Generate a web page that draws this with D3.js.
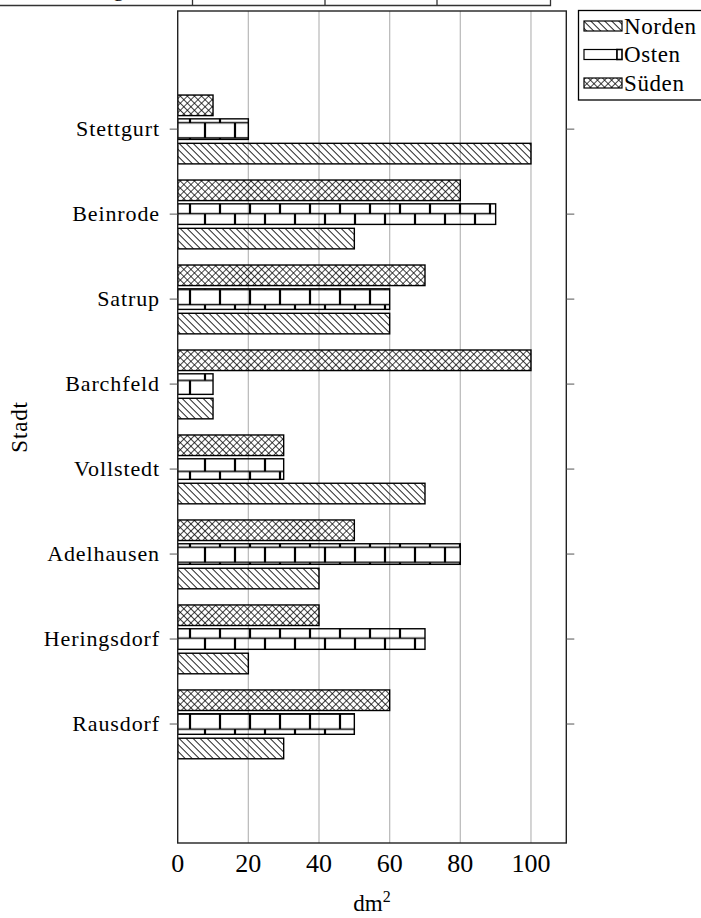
<!DOCTYPE html>
<html>
<head>
<meta charset="utf-8">
<script src="https://cdn.jsdelivr.net/npm/d3@7"></script>
<style>
body { margin: 0; background: #fff; }
svg { display: block; }
</style>
</head>
<body>
<div id="chart"></div>
<script>
// data, bottom to top
var cities = ["Rausdorf", "Heringsdorf", "Adelhausen", "Vollstedt", "Barchfeld", "Satrup", "Beinrode", "Stettgurt"];
var norden = [30, 20, 40, 70, 10, 60, 50, 100];
var osten  = [50, 70, 80, 30, 10, 60, 90, 20];
var sueden = [60, 40, 50, 30, 100, 70, 80, 10];
var seriesNames = ["Norden", "Osten", "Süden"];
var xTicks = [0, 20, 40, 60, 80, 100];

var W = 701, H = 918;
var pLeft = 177.7, pRight = 566.3, pTop = 11, pBottom = 843;
var font = "'Liberation Serif', 'Times New Roman', serif";

var svg = d3.select("#chart").append("svg")
    .attr("width", W)
    .attr("height", H);

var defs = svg.append("defs");

// north west lines
var pNW = defs.append("pattern")
    .attr("id", "nwlines")
    .attr("patternUnits", "userSpaceOnUse")
    .attr("width", 4.95).attr("height", 4.95)
    .attr("patternTransform", "rotate(-45)");
pNW.append("line")
    .attr("x1", 0).attr("y1", -1).attr("x2", 0).attr("y2", 6)
    .attr("stroke", "#000").attr("stroke-width", 1.7);

// crosshatch
var pCH = defs.append("pattern")
    .attr("id", "crosshatch")
    .attr("patternUnits", "userSpaceOnUse")
    .attr("width", 5).attr("height", 5)
    .attr("patternTransform", "rotate(45)");
pCH.append("path")
    .attr("d", "M0,-1V6M-1,0H6")
    .attr("stroke", "#000").attr("stroke-width", 1.45).attr("fill", "none");

// bricks
var bh = 15.16;
var pBR = defs.append("pattern")
    .attr("id", "bricks")
    .attr("patternUnits", "userSpaceOnUse")
    .attr("x", 0).attr("y", 16.62)
    .attr("width", 30).attr("height", 2 * bh);
pBR.append("path")
    .attr("d", "M0,0H30M0," + bh + "H30M0," + (2 * bh) + "H30")
    .attr("stroke", "#000").attr("stroke-width", 1.6).attr("fill", "none");
pBR.append("path")
    .attr("d", "M10,0V" + bh + "M25," + bh + "V" + (2 * bh))
    .attr("stroke", "#000").attr("stroke-width", 2.2).attr("fill", "none");

var fills = ["url(#nwlines)", "url(#bricks)", "url(#crosshatch)"];

var x = d3.scaleLinear().domain([0, 110]).range([pLeft, pRight]);
var y = d3.scaleLinear().domain([-1.4, 8.39]).range([pBottom, pTop]);

var step = y(0) - y(1);
var barH = step * 0.242;
// offsets: Norden below, Osten centered, Süden above
var offsets = [step * 0.288, 0, -step * 0.28];

// top header box (cut off)
var header = svg.append("g")
    .attr("stroke", "#333").attr("stroke-width", 1.3).attr("fill", "none");
header.append("path").attr("d", "M0,5.5H550.5V-10");
[192.5, 325, 437].forEach(function(cx) {
    header.append("path").attr("d", "M" + cx + ",5.5V-10");
});
svg.append("text")
    .attr("x", 124).attr("y", -3.6)
    .attr("text-anchor", "end")
    .attr("font-family", font).attr("font-size", 22)
    .text("Nennung");

// grid
svg.append("g")
    .selectAll("line")
    .data(xTicks.filter(function(d) { return d > 0; }))
    .enter()
    .append("line")
    .attr("x1", function(d) { return x(d); })
    .attr("x2", function(d) { return x(d); })
    .attr("y1", pTop).attr("y2", pBottom)
    .attr("stroke", "#bdbdbd").attr("stroke-width", 1.3);

// bars
var seriesData = [norden, osten, sueden];
seriesData.forEach(function(vals, s) {
    svg.append("g")
        .selectAll("rect")
        .data(vals)
        .enter()
        .append("rect")
        .attr("x", x(0))
        .attr("y", function(d, i) { return y(i) + offsets[s] - barH / 2; })
        .attr("width", function(d) { return x(d) - x(0); })
        .attr("height", barH)
        .attr("fill", fills[s])
        .attr("stroke", "#000")
        .attr("stroke-width", 1.4);
});

// frame
svg.append("rect")
    .attr("x", pLeft).attr("y", pTop)
    .attr("width", pRight - pLeft).attr("height", pBottom - pTop)
    .attr("fill", "none").attr("stroke", "#222").attr("stroke-width", 1.4);

// y ticks
var yt = svg.append("g");
yt.selectAll("line.l")
    .data(cities)
    .enter()
    .append("line")
    .attr("class", "l")
    .attr("x1", pLeft - 8).attr("x2", pLeft)
    .attr("y1", function(d, i) { return y(i); })
    .attr("y2", function(d, i) { return y(i); })
    .attr("stroke", "#555").attr("stroke-width", 1);
yt.selectAll("line.r")
    .data(cities)
    .enter()
    .append("line")
    .attr("class", "r")
    .attr("x1", pRight).attr("x2", pRight + 8)
    .attr("y1", function(d, i) { return y(i); })
    .attr("y2", function(d, i) { return y(i); })
    .attr("stroke", "#555").attr("stroke-width", 1);
yt.selectAll("text")
    .data(cities)
    .enter()
    .append("text")
    .attr("x", 160)
    .attr("y", function(d, i) { return y(i); })
    .attr("dy", "0.33em")
    .attr("text-anchor", "end")
    .attr("font-family", font)
    .attr("font-size", 22)
    .attr("letter-spacing", 0.9)
    .text(function(d) { return d; });

// x tick labels
svg.append("g")
    .selectAll("text")
    .data(xTicks)
    .enter()
    .append("text")
    .attr("x", function(d) { return x(d); })
    .attr("y", 872)
    .attr("text-anchor", "middle")
    .attr("font-family", font)
    .attr("font-size", 26)
    .text(function(d) { return d; });

// axis labels
var xl = svg.append("text")
    .attr("x", (pLeft + pRight) / 2)
    .attr("y", 911)
    .attr("text-anchor", "middle")
    .attr("font-family", font)
    .attr("font-size", 23);
xl.append("tspan").text("dm");
xl.append("tspan").attr("font-size", 16).attr("dy", -9).text("2");

svg.append("text")
    .attr("transform", "translate(27," + ((pTop + pBottom) / 2) + ") rotate(-90)")
    .attr("text-anchor", "middle")
    .attr("font-family", font)
    .attr("font-size", 23)
    .attr("letter-spacing", 0.8)
    .text("Stadt");

// legend
var lg = svg.append("g");
lg.append("rect")
    .attr("x", 578.5).attr("y", 10.5)
    .attr("width", 140).attr("height", 89.5)
    .attr("fill", "#fff").attr("stroke", "#000").attr("stroke-width", 1.3);

var legY = d3.scaleLinear().domain([0, 2]).range([26, 83]);
var items = lg.selectAll("g.item")
    .data(seriesNames)
    .enter()
    .append("g")
    .attr("class", "item")
    .attr("transform", function(d, i) { return "translate(0," + legY(i) + ")"; });

items.append("rect")
    .attr("x", 584).attr("y", -5)
    .attr("width", function(d, i) { return i === 1 ? 33 : 38; })
    .attr("height", 10)
    .attr("fill", function(d, i) { return i === 1 ? "#fff" : fills[i]; })
    .attr("stroke", "#000").attr("stroke-width", 1.2);
items.filter(function(d, i) { return i === 1; })
    .append("rect")
    .attr("x", 617).attr("y", -5)
    .attr("width", 5).attr("height", 10)
    .attr("fill", "#fff").attr("stroke", "#000").attr("stroke-width", 1.6);

items.append("text")
    .attr("x", 624)
    .attr("dy", "0.33em")
    .attr("font-family", font)
    .attr("font-size", 23)
    .attr("letter-spacing", 0.6)
    .text(function(d) { return d; });
</script>
</body>
</html>
